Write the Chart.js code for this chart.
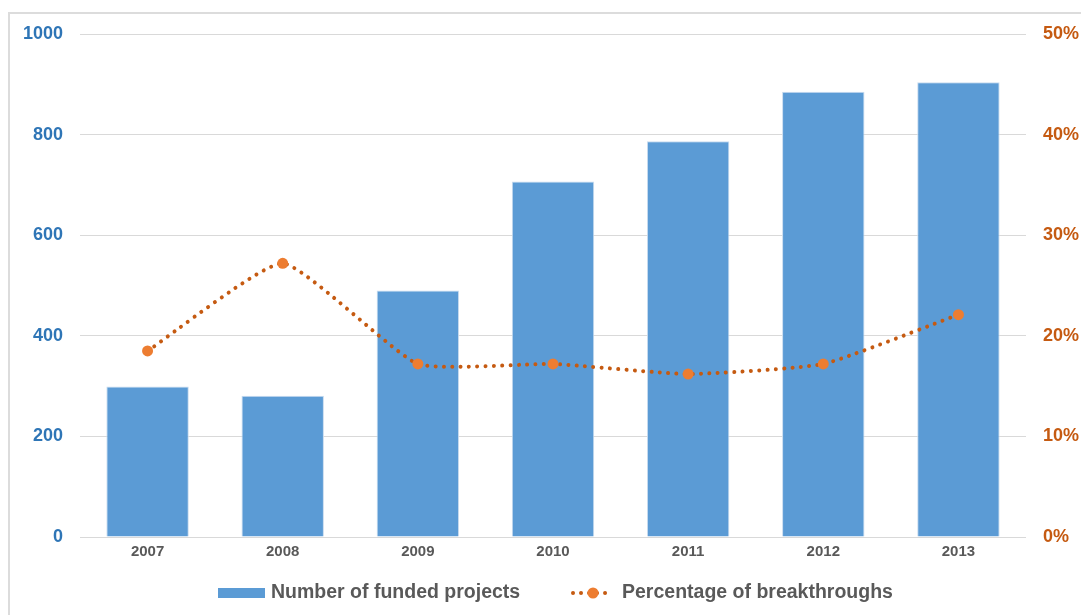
<!DOCTYPE html>
<html>
<head>
<meta charset="utf-8">
<script src="https://cdn.jsdelivr.net/npm/chart.js@4/dist/chart.umd.min.js"></script>
<style>
  html, body { margin: 0; padding: 0; background: #fff; overflow: hidden; }
  #frame { position: absolute; left: 8px; top: 12px; width: 1200px; height: 800px;
           border-left: 2px solid #dcdcdc; border-top: 2px solid #dcdcdc; }
  #wrap { position: absolute; left: 0; top: 0; width: 1081px; height: 615px; }
</style>
</head>
<body>
<div id="frame"></div>
<div id="wrap"><canvas id="chart"></canvas></div>
<script>
// chart data
const years = ["2007", "2008", "2009", "2010", "2011", "2012", "2013"];
const fundedProjects = [299, 281, 490, 707, 787, 885, 904];
const breakthroughPct = [18.5, 27.2, 17.2, 17.2, 16.2, 17.2, 22.1];
const legendLabels = ["Number of funded projects", "Percentage of breakthroughs"];

const barColor = "#5b9bd5";
const lineColor = "#c55a11";
const markerColor = "#ed7d31";
const fontFamily = "'Liberation Sans', Arial, sans-serif";

// simple legend drawn under the plot
const bottomLegend = {
  id: "bottomLegend",
  afterDraw(chart) {
    const ctx = chart.ctx;
    const y = 593;
    ctx.save();
    ctx.font = "bold 19.5px " + fontFamily;
    ctx.textBaseline = "middle";

    // bar item
    ctx.fillStyle = barColor;
    ctx.fillRect(218, y - 5, 47, 10);
    ctx.fillStyle = "#595959";
    ctx.fillText(legendLabels[0], 271, y);

    // line item
    ctx.strokeStyle = lineColor;
    ctx.lineWidth = 4;
    ctx.lineCap = "round";
    ctx.setLineDash([0.01, 8]);
    ctx.beginPath();
    ctx.moveTo(573, y);
    ctx.lineTo(613, y);
    ctx.stroke();
    ctx.setLineDash([]);
    ctx.fillStyle = markerColor;
    ctx.beginPath();
    ctx.arc(593, y, 5.5, 0, Math.PI * 2);
    ctx.fill();
    ctx.fillStyle = "#595959";
    ctx.fillText(legendLabels[1], 622, y);
    ctx.restore();
  },
};

const ctx = document.getElementById("chart").getContext("2d");
new Chart(ctx, {
  data: {
    labels: years,
    datasets: [
      {
        type: "line",
        label: legendLabels[1],
        data: breakthroughPct,
        yAxisID: "y1",
        borderColor: lineColor,
        borderWidth: 4,
        borderDash: [0.01, 8.3],
        borderCapStyle: "round",
        tension: 0.15,
        pointRadius: 5.5,
        pointBackgroundColor: markerColor,
        pointBorderWidth: 0,
        order: 0,
      },
      {
        type: "bar",
        label: legendLabels[0],
        data: fundedProjects,
        yAxisID: "y",
        backgroundColor: barColor,
        borderColor: "#c9dcef",
        borderWidth: 1,
        categoryPercentage: 1,
        barPercentage: 0.61,
        order: 1,
      },
    ],
  },
  options: {
    responsive: true,
    maintainAspectRatio: false,
    animation: false,
    layout: { padding: { top: 34, bottom: 56, left: 0, right: 0 } },
    plugins: {
      legend: { display: false },
      tooltip: { enabled: false },
    },
    scales: {
      x: {
        grid: { display: false },
        border: { display: false },
        ticks: {
          color: "#595959",
          font: { family: fontFamily, size: 15, weight: "bold" },
          padding: -2,
        },
      },
      y: {
        position: "left",
        min: 0,
        max: 1000,
        afterFit: (scale) => { scale.width = 80; },
        grid: { color: "#d9d9d9", lineWidth: 1, drawTicks: false },
        border: { display: false },
        ticks: {
          stepSize: 200,
          color: "#2e75b6",
          font: { family: fontFamily, size: 18, weight: "bold" },
          padding: 17,
          callback: (v) => String(v),
        },
      },
      y1: {
        position: "right",
        min: 0,
        max: 50,
        afterFit: (scale) => { scale.width = 55; },
        grid: { display: false, drawTicks: false },
        border: { display: false },
        ticks: {
          stepSize: 10,
          color: "#c55a11",
          font: { family: fontFamily, size: 18, weight: "bold" },
          padding: 17,
          callback: (v) => v + "%",
        },
      },
    },
  },
  plugins: [bottomLegend],
});
</script>
</body>
</html>
